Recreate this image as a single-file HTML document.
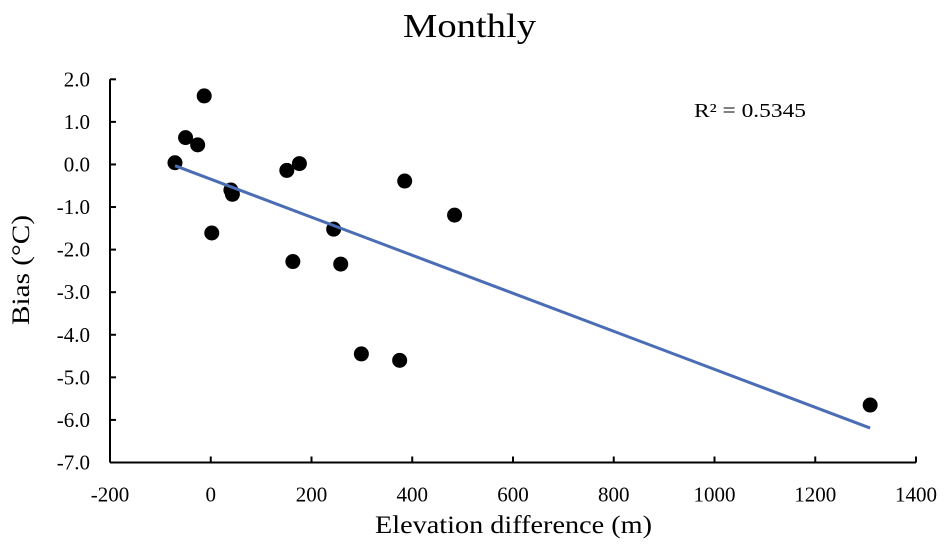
<!DOCTYPE html>
<html><head><meta charset="utf-8"><style>
body{margin:0;background:#fff;}
svg{display:block;font-family:"Liberation Serif",serif;}
</style></head><body>
<svg id="chart" width="947" height="553">
<text x="403" y="37" font-size="34" textLength="133" lengthAdjust="spacingAndGlyphs">Monthly</text>
<text x="694" y="117" font-size="20" textLength="112" lengthAdjust="spacingAndGlyphs">R² = 0.5345</text>
<text transform="translate(29,270) rotate(-90)" font-size="25" text-anchor="middle" textLength="110" lengthAdjust="spacingAndGlyphs">Bias (°C)</text>
<text x="375" y="533" font-size="25" textLength="277" lengthAdjust="spacingAndGlyphs">Elevation difference (m)</text>
<g id="axes"></g><g id="marks"></g>
</svg>
<script>
const xTicks=[-200,0,200,400,600,800,1000,1200,1400];
const yTicks=[2,1,0,-1,-2,-3,-4,-5,-6,-7];
const elevDiff=[-71,-50,-26,-13,40,43,2,151,176,244,163,258,385,484,299,375,1309];
const bias=[0.04,0.63,0.46,1.61,-0.6,-0.7,-1.61,-0.14,0.02,-1.52,-2.28,-2.34,-0.39,-1.19,-4.45,-4.6,-5.65];
const NS="http://www.w3.org/2000/svg";
const X=v=>110+(v+200)*(806/1600);
const Y=v=>79.3+(2-v)*(383.2/9);
function mk(t,a,p){const e=document.createElementNS(NS,t);for(const k in a)e.setAttribute(k,a[k]);p.appendChild(e);return e;}
const ax=document.getElementById('axes'),mg=document.getElementById('marks');
let l=mk('line',{x1:110,y1:Y(2),x2:110,y2:Y(-7),stroke:'#000','stroke-width':2},ax);


l=mk('line',{x1:110,y1:Y(-7),x2:X(1400),y2:Y(-7),stroke:'#000','stroke-width':2},ax);


yTicks.forEach(v=>{
 const t=mk('line',{x1:110,y1:Y(v),x2:116,y2:Y(v),stroke:'#000','stroke-width':2},ax);
 
 
 const tx=mk('text',{x:90,y:Y(v)+7,'font-size':21,'text-anchor':'end'},ax);
 tx.textContent=v.toFixed(1);
 
 
});
xTicks.forEach(v=>{
 const t=mk('line',{x1:X(v),y1:Y(-7),x2:X(v),y2:Y(-7)-6,stroke:'#000','stroke-width':2},ax);
 
 
 const tx=mk('text',{x:X(v),y:Y(-7)+39,'font-size':21,'text-anchor':'middle'},ax);
 tx.textContent=v;
 
 
});
elevDiff.forEach((v,i)=>{
 const c=mk('circle',{cx:X(v),cy:Y(bias[i]),r:7.5,fill:'#000'},mg);
 
 
});
const n=elevDiff.length;
const mx=elevDiff.reduce((a,b)=>a+b)/n,my=bias.reduce((a,b)=>a+b)/n;
let sxy=0,sxx=0;elevDiff.forEach((v,i)=>{sxy+=(v-mx)*(bias[i]-my);sxx+=(v-mx)*(v-mx);});
const m=sxy/sxx,b=my-m*mx;
const x0=Math.min(...elevDiff),x1=Math.max(...elevDiff);
const tl=mk('line',{x1:X(x0),y1:Y(m*x0+b),x2:X(x1),y2:Y(m*x1+b),stroke:'#4a6db5','stroke-width':3},mg);


</script>
</body></html>
